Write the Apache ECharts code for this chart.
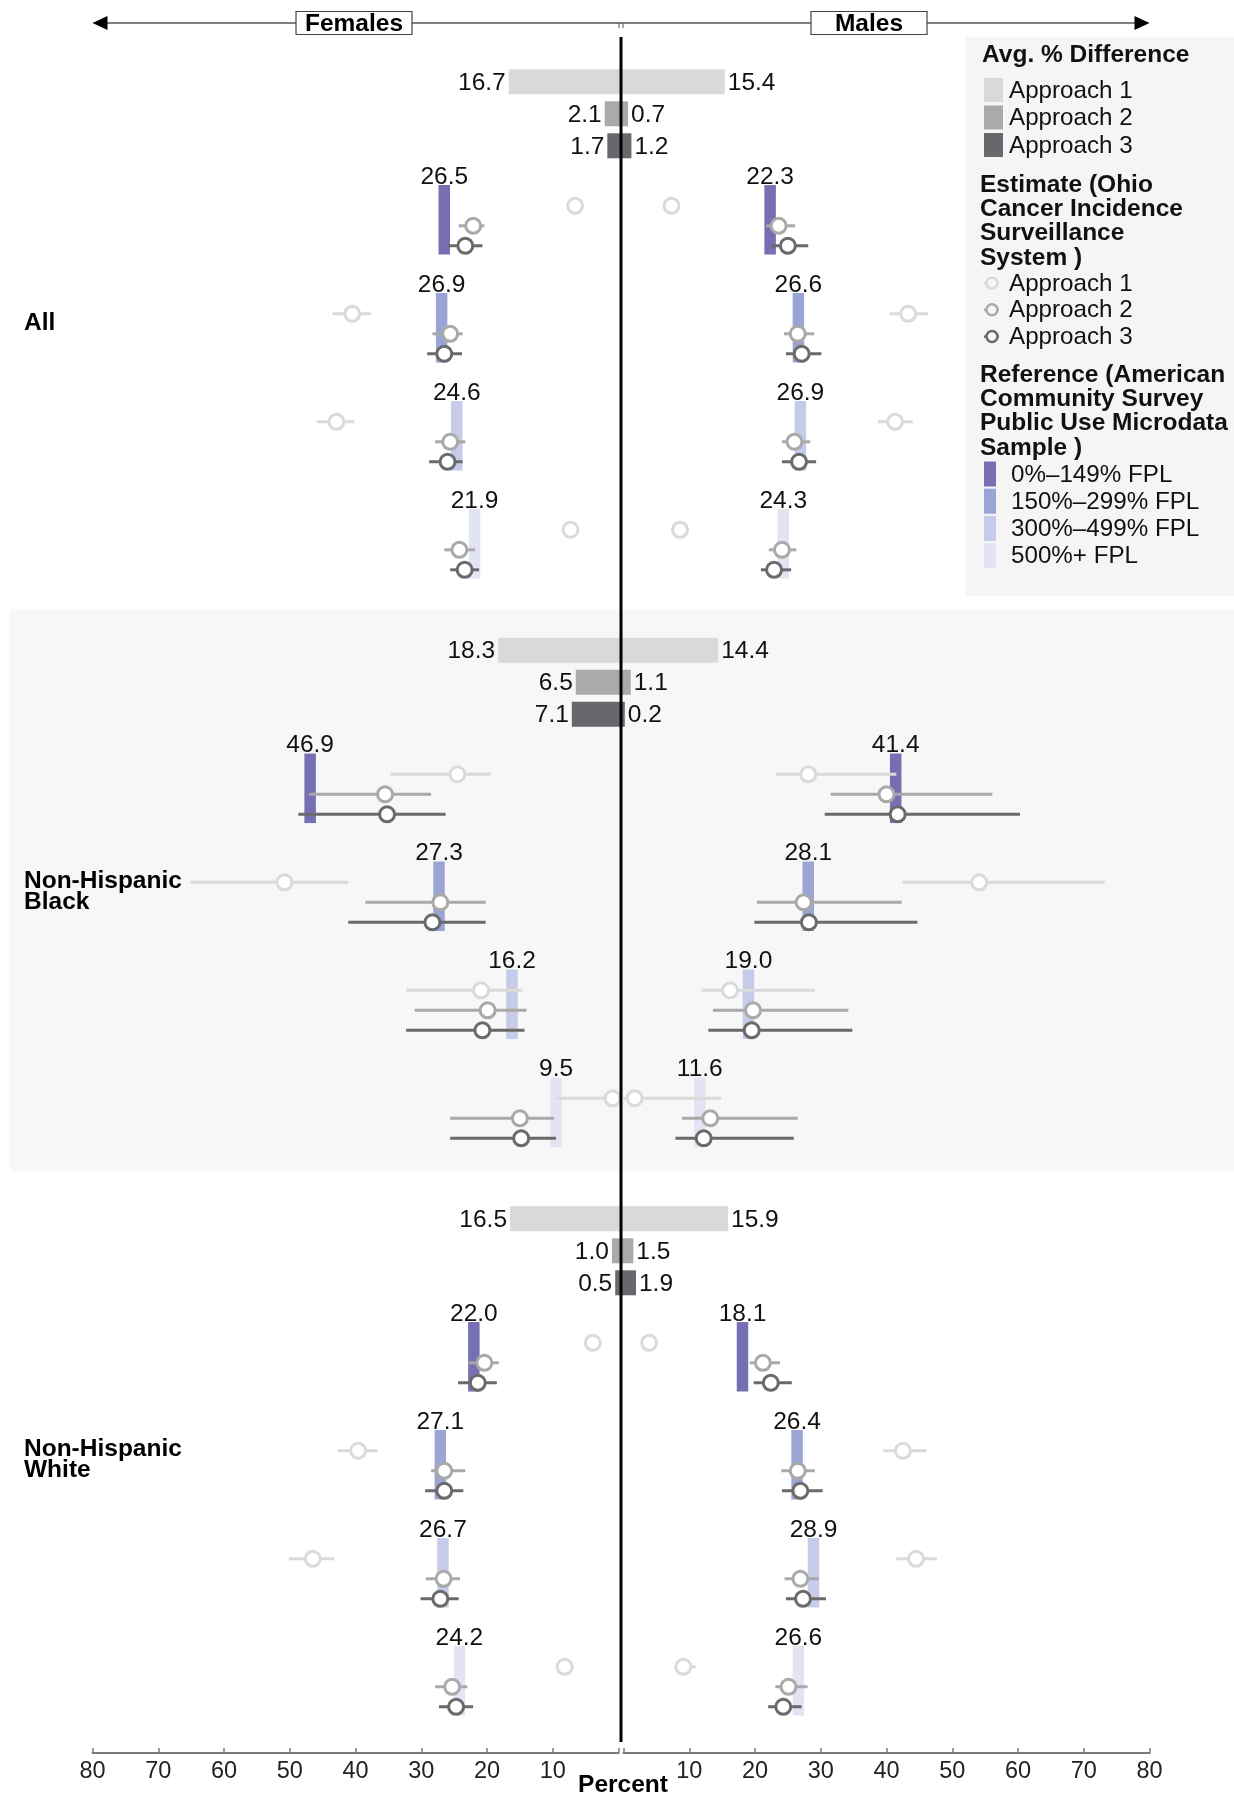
<!DOCTYPE html>
<html><head><meta charset="utf-8">
<script src="https://cdn.jsdelivr.net/npm/echarts@6/dist/echarts.min.js"></script>
<style>html,body{margin:0;padding:0;background:#fff}#c{width:1234px;height:1796px}</style>
</head><body><div id="c"></div><script>
// ---------------- DATA ----------------
const groups = ['All', 'Non-Hispanic\nBlack', 'Non-Hispanic\nWhite'];
const approaches = ['Approach 1', 'Approach 2', 'Approach 3'];
const fplLevels = ['0%\u2013149% FPL', '150%\u2013299% FPL', '300%\u2013499% FPL', '500%+ FPL'];
const sexes = ['Females', 'Males'];

// Avg. % difference [group][approach]
const diffFemale = [[16.7, 2.1, 1.7], [18.3, 6.5, 7.1], [16.5, 1.0, 0.5]];
const diffMale   = [[15.4, 0.7, 1.2], [14.4, 1.1, 0.2], [15.9, 1.5, 1.9]];

// Reference (ACS PUMS) [group][fpl]
const refFemale = [[26.5, 26.9, 24.6, 21.9], [46.9, 27.3, 16.2, 9.5], [22.0, 27.1, 26.7, 24.2]];
const refMale   = [[22.3, 26.6, 26.9, 24.3], [41.4, 28.1, 19.0, 11.6], [18.1, 26.4, 28.9, 26.6]];

// Estimates [fpl][approach] = [estimate, low, high]
const estFemaleAll = [
  [[6.6, 6.0, 7.2], [22.1, 20.4, 24.3], [23.3, 20.7, 26.0]],
  [[40.5, 37.6, 43.5], [25.6, 23.7, 28.3], [26.5, 23.8, 29.1]],
  [[42.9, 40.2, 45.9], [25.6, 23.3, 27.9], [26.0, 23.7, 28.8]],
  [[7.3, 6.7, 7.9], [24.2, 21.8, 26.5], [23.4, 21.2, 25.6]]
];
const estMaleAll = [
  [[7.3, 6.7, 7.9], [23.6, 21.7, 26.1], [25.0, 22.5, 28.1]],
  [[43.3, 40.5, 46.3], [26.5, 24.4, 29.0], [27.1, 24.7, 30.1]],
  [[41.3, 38.7, 44.0], [26.0, 24.1, 28.4], [26.7, 24.1, 29.3]],
  [[8.6, 8.0, 9.2], [24.1, 22.1, 26.3], [22.9, 20.9, 25.5]]
];
const estFemaleBlack = [
  [[24.5, 19.4, 34.7], [35.5, 28.5, 47.1], [35.2, 26.3, 48.7]],
  [[50.8, 41.1, 65.1], [27.1, 20.2, 38.5], [28.3, 20.2, 41.1]],
  [[20.9, 14.6, 32.3], [19.9, 14.0, 31.0], [20.7, 14.3, 32.3]],
  [[0.9, 0.0, 9.5], [15.0, 9.8, 25.6], [14.8, 9.5, 25.6]]
];
const estMaleBlack = [
  [[28.1, 23.2, 41.5], [40.0, 31.5, 56.1], [41.7, 30.6, 60.3]],
  [[54.1, 42.4, 73.2], [27.4, 20.3, 42.3], [28.2, 19.9, 44.7]],
  [[16.2, 11.9, 29.1], [19.7, 13.6, 34.2], [19.5, 12.9, 34.8]],
  [[1.7, 0.0, 14.9], [13.2, 8.9, 26.5], [12.2, 7.9, 25.9]]
];
const estFemaleWhite = [
  [[3.9, 3.3, 4.5], [20.4, 18.2, 22.8], [21.4, 18.5, 24.4]],
  [[39.6, 36.6, 42.7], [26.5, 23.3, 28.5], [26.5, 23.6, 29.4]],
  [[46.5, 43.2, 50.1], [26.6, 24.1, 29.3], [27.1, 24.3, 30.1]],
  [[8.2, 6.8, 9.4], [25.3, 23.0, 27.9], [24.7, 22.1, 27.3]]
];
const estMaleWhite = [
  [[3.9, 3.3, 4.5], [21.2, 19.2, 23.8], [22.4, 19.8, 25.6]],
  [[42.5, 39.5, 46.1], [26.5, 24.0, 29.1], [26.9, 24.1, 30.3]],
  [[44.5, 41.5, 47.7], [26.9, 24.5, 29.7], [27.3, 24.7, 30.8]],
  [[9.1, 8.2, 11.0], [25.1, 23.1, 28.0], [24.3, 22.0, 27.1]]
];
const xTickMax = 80, xTickStep = 10;

// ---------------- STYLE / LAYOUT ----------------
const FONT = "'Liberation Sans', Arial, Helvetica, sans-serif";
const diffColors = ['#d9d9db', '#aaaaad', '#68686c'];
const estColors = ['#dadada', '#a9a9a9', '#6a6a6a'];
const fplColors = ['#7670b3', '#9ba5d5', '#c6cbe9', '#e3e4f3'];
const VAL_FS = 24.5;
const Y_MAX = 1716, GROUP0 = 44.8, GROUP_STEP = 568.5;
const diffY = (g, a) => GROUP0 + g * GROUP_STEP + a * 32;
const estY = (g, k, a) => GROUP0 + g * GROUP_STEP + 124 + 108 * k + 20 * a;

const diffBySex = [diffFemale, diffMale];
const refBySex = [refFemale, refMale];
const estBySex = [[estFemaleAll, estFemaleBlack, estFemaleWhite], [estMaleAll, estMaleBlack, estMaleWhite]];

const series = [];
[0, 1].forEach(s => {
  const dd = [];
  diffBySex[s].forEach((row, g) => row.forEach((v, a) => dd.push([v, diffY(g, a), a])));
  series.push({
    type: 'custom', xAxisIndex: s, yAxisIndex: s, z: 2, data: dd, encode: { x: 0, y: 1 },
    renderItem: (p, api) => {
      const v = api.value(0), y = api.value(1), a = api.value(2);
      const p0 = api.coord([0, y]), p1 = api.coord([v, y]);
      const h = 25;
      return { type: 'group', children: [
        { type: 'rect', shape: { x: Math.min(p0[0], p1[0]) - (s === 1 ? 2.5 : 0), y: p0[1] - h / 2, width: Math.abs(p1[0] - p0[0]) + 2.5, height: h },
          style: { fill: diffColors[a] } },
        { type: 'text', style: { text: v.toFixed(1), x: p1[0] + (s === 0 ? -3 : 3), y: p0[1] + 1,
          align: s === 0 ? 'right' : 'left', verticalAlign: 'middle', fontSize: VAL_FS, fontFamily: FONT, fill: '#111' } }
      ] };
    }
  });
  const rd = [];
  refBySex[s].forEach((row, g) => row.forEach((v, k) => rd.push([v, estY(g, k, 1) - 6, k])));
  series.push({
    type: 'custom', xAxisIndex: s, yAxisIndex: s, z: 1, data: rd, encode: { x: 0, y: 1 },
    renderItem: (p, api) => {
      const v = api.value(0), y = api.value(1), k = api.value(2);
      const c = api.coord([v, y]);
      const w = 11.5, h = 69.5;
      return { type: 'group', children: [
        { type: 'rect', shape: { x: c[0] - w / 2, y: c[1] - h / 2, width: w, height: h }, style: { fill: fplColors[k] } },
        { type: 'text', style: { text: v.toFixed(1), x: c[0], y: c[1] - h / 2 + 4.5, align: 'center', verticalAlign: 'bottom',
          fontSize: VAL_FS, fontFamily: FONT, fill: '#111' } }
      ] };
    }
  });
  [0, 1, 2].forEach(a => {
    const ci = [], pts = [];
    estBySex[s].forEach((grp, g) => grp.forEach((row, k) => {
      const e = row[a];
      ci.push([e[1], e[2], estY(g, k, a)]);
      pts.push([e[0], estY(g, k, a)]);
    }));
    series.push({
      type: 'custom', xAxisIndex: s, yAxisIndex: s, z: 3, data: ci, encode: { x: [0, 1], y: 2 },
      renderItem: (p, api) => {
        const y = api.value(2);
        const p0 = api.coord([api.value(0), y]), p1 = api.coord([api.value(1), y]);
        return { type: 'line', shape: { x1: p0[0], y1: p0[1], x2: p1[0], y2: p1[1] },
          style: { stroke: estColors[a], lineWidth: 3 } };
      }
    });
    series.push({
      type: 'scatter', xAxisIndex: s, yAxisIndex: s, z: 4, data: pts, symbol: 'circle', symbolSize: 15,
      itemStyle: { color: '#fff', borderColor: estColors[a], borderWidth: 3, opacity: 1 },
      emphasis: { disabled: true }, animation: false
    });
  });
});

const xAxisBase = s => ({
  type: 'value', gridIndex: s, min: 0, max: xTickMax, interval: xTickStep, inverse: s === 0,
  axisLine: { show: true, onZero: false, lineStyle: { color: '#7a7a7a', width: 2 } },
  axisTick: { show: true, inside: true, length: 5, lineStyle: { color: '#7a7a7a', width: 1.5 } },
  axisLabel: { formatter: v => (v === 0 ? '' : String(v)), fontSize: 23.5, color: '#222', margin: 7, fontFamily: FONT },
  splitLine: { show: false }
});

const chart = echarts.init(document.getElementById('c'), null, { renderer: 'canvas' });
chart.setOption({
  animation: false,
  backgroundColor: '#fff',
  grid: [
    { left: 92.5, top: 37, width: 526, height: Y_MAX },
    { left: 623.5, top: 37, width: 526, height: Y_MAX }
  ],
  xAxis: [xAxisBase(0), xAxisBase(1)],
  yAxis: [0, 1].map(s => ({ type: 'value', gridIndex: s, min: 0, max: Y_MAX, inverse: true, show: false })),
  series: series
});

// ---------------- DECORATION ----------------
const py = v => chart.convertToPixel({ yAxisIndex: 0 }, v);
const pxL = v => chart.convertToPixel({ xAxisIndex: 0 }, v);
const pxR = v => chart.convertToPixel({ xAxisIndex: 1 }, v);
const cx = (pxL(0) + pxR(0)) / 2;
const g = [];
g.push({ type: 'rect', z: -10, silent: true,
  shape: { x: 10, y: py(GROUP0 + GROUP_STEP - 41), width: 1224, height: py(GROUP0 + GROUP_STEP + 521) - py(GROUP0 + GROUP_STEP - 41) },
  style: { fill: '#f7f7f7' } });
g.push({ type: 'line', z: 50, shape: { x1: cx, y1: 37, x2: cx, y2: 1742 }, style: { stroke: '#000', lineWidth: 3 } });
const hy = 23;
g.push({ type: 'line', z: 50, shape: { x1: pxL(80) + 10, y1: hy, x2: pxR(80) - 10, y2: hy }, style: { stroke: '#555', lineWidth: 1.3 } });
g.push({ type: 'polygon', z: 50, shape: { points: [[pxL(80), hy], [pxL(80) + 15, hy - 7], [pxL(80) + 15, hy + 7]] }, style: { fill: '#000' } });
g.push({ type: 'polygon', z: 50, shape: { points: [[pxR(80), hy], [pxR(80) - 15, hy - 7], [pxR(80) - 15, hy + 7]] }, style: { fill: '#000' } });
g.push({ type: 'line', z: 50, shape: { x1: cx - 2, y1: hy, x2: cx - 2, y2: hy + 5 }, style: { stroke: '#555', lineWidth: 1 } });
g.push({ type: 'line', z: 50, shape: { x1: cx + 2, y1: hy, x2: cx + 2, y2: hy + 5 }, style: { stroke: '#555', lineWidth: 1 } });
[[sexes[0], 354], [sexes[1], 869]].forEach(([t, x]) => {
  g.push({ type: 'rect', z: 51, shape: { x: x - 58, y: hy - 11.5, width: 116, height: 23 }, style: { fill: '#fff', stroke: '#444', lineWidth: 1.2 } });
  g.push({ type: 'text', z: 52, style: { text: t, x: x, y: hy + 1, align: 'center', verticalAlign: 'middle', fontSize: 24.5, fontWeight: 'bold', fontFamily: FONT, fill: '#000' } });
});
groups.forEach((t, i) => {
  g.push({ type: 'text', z: 50, style: { text: t, x: 24, y: py(GROUP0 + i * GROUP_STEP + 241), align: 'left', verticalAlign: 'middle',
    fontSize: 24.5, fontWeight: 'bold', fontFamily: FONT, fill: '#000', lineHeight: 21 } });
});
g.push({ type: 'text', z: 50, style: { text: 'Percent', x: cx + 2, y: 1785, align: 'center', verticalAlign: 'middle', fontSize: 24.5, fontWeight: 'bold', fontFamily: FONT, fill: '#000' } });

// legend
const LX = 966, LY = 37;
g.push({ type: 'rect', z: 40, shape: { x: LX, y: LY, width: 268, height: 559 }, style: { fill: '#f5f5f5' } });
const title = (txt, x, y) => g.push({ type: 'text', z: 52, style: { text: txt, x: x, y: y, align: 'left', verticalAlign: 'middle',
  fontSize: 24.5, fontWeight: 'bold', fontFamily: FONT, fill: '#111', lineHeight: 24.2 } });
const item = (txt, x, y) => g.push({ type: 'text', z: 52, style: { text: txt, x: x, y: y, align: 'left', verticalAlign: 'middle',
  fontSize: 24.2, fontFamily: FONT, fill: '#111' } });
title('Avg. % Difference', 982, 55);
approaches.forEach((t, a) => {
  const yc = 90 + a * 27.5;
  g.push({ type: 'rect', z: 52, shape: { x: 984, y: yc - 12, width: 19, height: 24 }, style: { fill: diffColors[a] } });
  item(t, 1009, yc + 1);
});
title('Estimate (Ohio\nCancer Incidence\nSurveillance\nSystem )', 980, 221.5);
approaches.forEach((t, a) => {
  const yc = 283 + a * 26.8;
  g.push({ type: 'line', z: 52, shape: { x1: 984, y1: yc, x2: 999, y2: yc }, style: { stroke: estColors[a], lineWidth: 2.5 } });
  g.push({ type: 'circle', z: 53, shape: { cx: 992, cy: yc, r: 5.5 }, style: { fill: '#f5f5f5', stroke: estColors[a], lineWidth: 2.5 } });
  item(t, 1009, yc + 1);
});
title('Reference (American\nCommunity Survey\nPublic Use Microdata\nSample )', 980, 411.5);
fplLevels.forEach((t, k) => {
  const yc = 474 + k * 27.2;
  g.push({ type: 'rect', z: 52, shape: { x: 984, y: yc - 12.5, width: 12, height: 25 }, style: { fill: fplColors[k] } });
  item(t, 1011, yc + 1);
});
chart.setOption({ graphic: g });
</script></body></html>
